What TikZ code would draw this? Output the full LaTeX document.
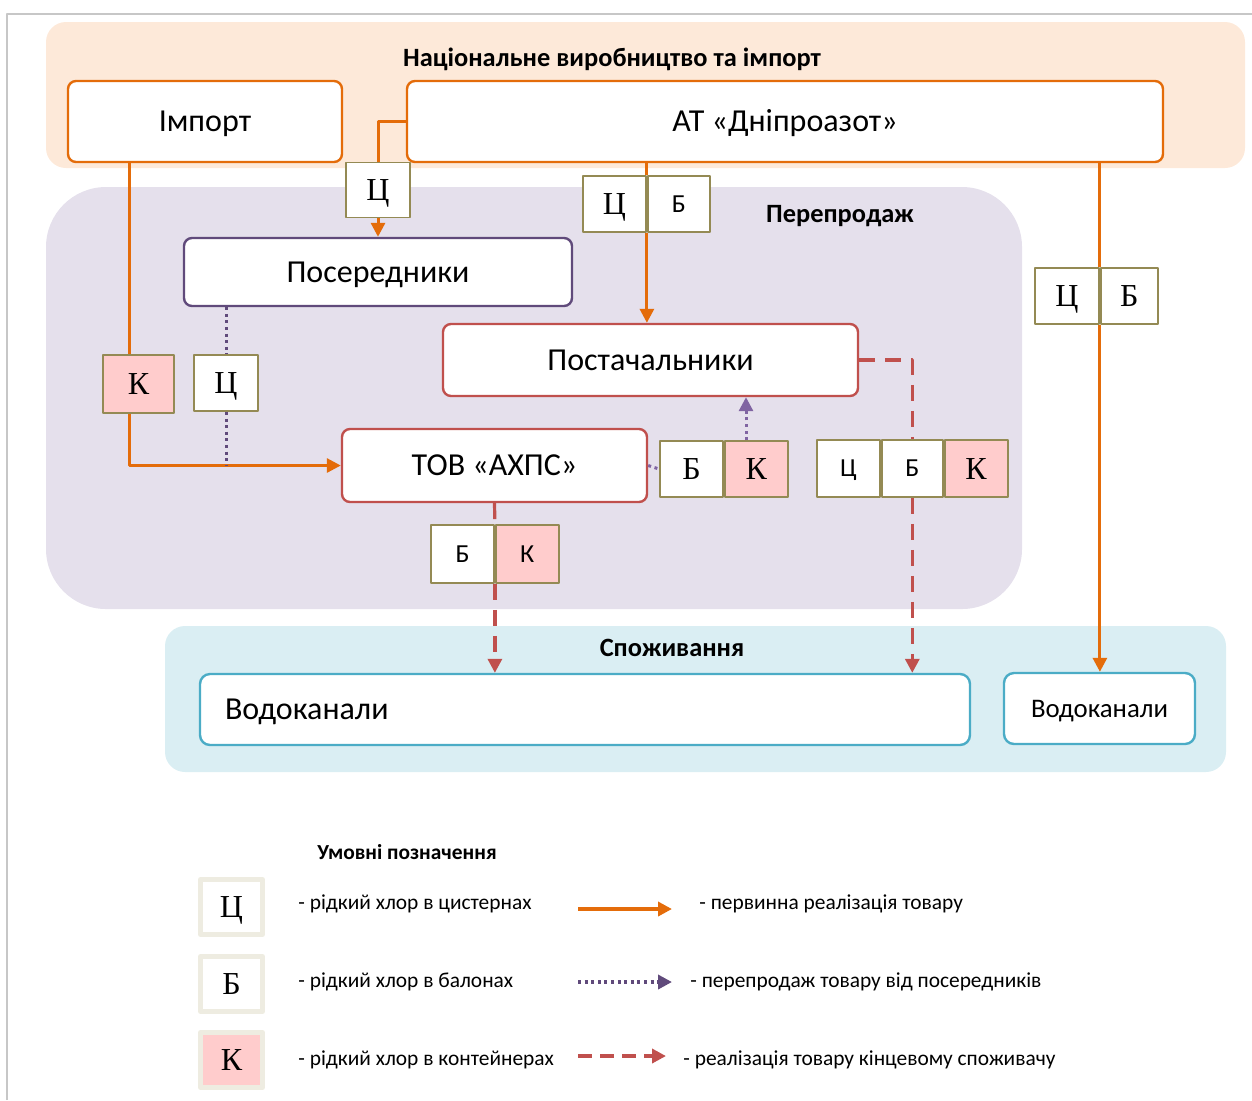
\documentclass[tikz,border=0pt]{standalone}
\usepackage{fontspec}
\setmainfont{Carlito}
\newfontfamily\serifletters{Liberation Serif}
\usetikzlibrary{arrows.meta, calc, positioning}
\usepackage{xcolor}

\definecolor{primorange}{RGB}{228,108,10}
\definecolor{bandorange}{RGB}{253,233,217}
\definecolor{bandlilac}{RGB}{229,224,236}
\definecolor{bandblue}{RGB}{218,238,243}
\definecolor{darkpurple}{RGB}{96,74,123}
\definecolor{lightpurple}{RGB}{128,100,162}
\definecolor{finalred}{RGB}{192,80,77}
\definecolor{waterblue}{RGB}{75,172,198}
\definecolor{tagolive}{RGB}{148,138,84}
\definecolor{tagpink}{RGB}{255,204,204}
\definecolor{legendgrey}{RGB}{238,236,225}

\begin{document}
\begin{tikzpicture}[x=0.5pt, y=-0.5pt, line cap=butt, line join=round,
  box/.style={draw, fill=white, rounded corners=4pt, line width=1.2pt, inner sep=2pt, text height=10.3pt, text depth=0pt, font=\fontsize{16}{19}\selectfont},
  bandtitle/.style={font=\bfseries\fontsize{13.2}{15}\selectfont, inner sep=0pt},
  tag/.style={draw=tagolive, fill=white, line width=0.9pt, inner sep=0pt, text height=10.6pt, text depth=0pt, font=\serifletters\fontsize{16}{18}\selectfont},
  tagsans/.style={tag, text height=8.4pt, font=\fontsize{13}{15}\selectfont},
  pink/.style={fill=tagpink},
  legbox/.style={draw=legendgrey, fill=white, line width=2.5pt, inner sep=0pt, minimum width=31pt, minimum height=27.5pt, text height=10.6pt, text depth=0pt, font=\serifletters\fontsize{16}{18}\selectfont},
  legtext/.style={anchor=west, inner sep=0pt, font=\fontsize{10.7}{12}\selectfont},
  prim/.style={draw=primorange, line width=1.5pt},
  resale/.style={draw=darkpurple, line width=1.5pt, dash pattern=on 1.5pt off 1.8pt},
  final/.style={draw=finalred, line width=1.6pt, dash pattern=on 8pt off 5pt},
  tip/.style={-{Triangle[length=7pt,width=7pt]}}]
\useasboundingbox (0,0) rectangle (1252,1100);

% рамка
\draw [black!22, line width=1pt] (7,1100) -- (7,14) -- (1252,14);

% фонові області
\fill [bandorange, rounded corners=10pt] (46,22) rectangle (1245,168);
\fill [bandlilac, rounded corners=30pt] (46,187) rectangle (1022,609);
\fill [bandblue, rounded corners=10pt] (165,626) rectangle (1226,772);

\node [bandtitle] (natl) at (612,59) {Національне виробництво та імпорт};
\node [bandtitle] (resold) at (840,216) {Перепродаж};
\node [bandtitle] (consum) at (672,648) {Споживання};

% учасники ринку
\node [box, draw=primorange, minimum width=137pt, minimum height=40.5pt] (imp) at (205,121.5) {Імпорт};
\node [box, draw=primorange, minimum width=378pt, minimum height=40.5pt] (dnipro) at (785,121.5) {АТ «Дніпроазот»};
\node [box, draw=darkpurple, minimum width=194pt, minimum height=34pt] (poser) at (378,272) {Посередники};
\node [box, draw=finalred, minimum width=207.5pt, minimum height=36pt] (postach) at (650.5,360) {Постачальники};
\node [box, draw=finalred, minimum width=152.5pt, minimum height=36.5pt] (tov) at (494.5,465.5) {ТОВ «АХПС»};
\node [box, draw=waterblue, rounded corners=5pt, text width=360pt, inner xsep=12.5pt, align=left, minimum height=35.5pt] (vodo1) at (585,709.5) {Водоканали};
\node [box, draw=waterblue, rounded corners=5pt, minimum width=95.5pt, minimum height=35.5pt, text height=8.6pt, font=\fontsize{13.4}{16}\selectfont] (vodo2) at (1099.5,708.5) {Водоканали};

% позначки тари
\node [tag, minimum width=32pt, minimum height=27.5pt] (t1) at (378,190) {Ц};
\node [tag, minimum width=31.5pt, minimum height=28pt] (t2a) at (614.5,204) {Ц};
\node [tagsans, minimum width=31pt, minimum height=28pt, right=0pt of t2a] (t2b) {Б};
\node [tag, minimum width=32pt, minimum height=28pt] (t3a) at (1067,296) {Ц};
\node [tag, minimum width=28.5pt, minimum height=28pt, right=0pt of t3a] (t3b) {Б};
\node [tag, pink, minimum width=35.5pt, minimum height=29pt] (t4) at (138.5,384) {К};
\node [tag, minimum width=32pt, minimum height=28pt] (t5) at (226,383) {Ц};
\node [tag, minimum width=31.5pt, minimum height=28pt] (t6a) at (691.5,469) {Б};
\node [tag, pink, minimum width=31.5pt, minimum height=28pt, right=0pt of t6a] (t6b) {К};
\node [tagsans, minimum width=31.5pt, minimum height=29pt] (t7a) at (462.5,554) {Б};
\node [tagsans, pink, minimum width=31.5pt, minimum height=29pt, right=0pt of t7a] (t7b) {К};
\node [tagsans, minimum width=31.5pt, minimum height=28.5pt] (t8a) at (848.5,468.5) {Ц};
\node [tagsans, minimum width=30.5pt, minimum height=28.5pt, right=0pt of t8a] (t8b) {Б};
\node [tag, pink, minimum width=31.5pt, minimum height=28.5pt, right=0pt of t8b] (t8c) {К};

\coordinate (kx) at (129,384);
\coordinate (ux) at (746,440);

% первинна реалізація
\draw [prim] (dnipro.west) -| (t1.north);
\draw [prim, tip] (t1.south) -- (poser.north);
\draw [prim] (dnipro.south -| t2a.east) -- (t2a.north east);
\draw [prim, tip] (t2a.south east) -- (postach.north -| t2a.east);
\draw [prim] (dnipro.south -| t3a.east) -- (t3a.north east);
\draw [prim, tip] (t3a.south east) -- (vodo2.north -| t3a.east);
\draw [prim] (imp.south -| kx) -- (kx |- t4.north);
\draw [prim, tip] (kx |- t4.south) |- (tov.west);

% перепродаж
\draw [resale] (poser.south -| t5) -- (t5.north);
\draw [resale] (t5.south) -- (t5 |- tov.west);
\draw [resale, draw=lightpurple] (tov.east) -- (t6a.west);
\draw [resale, draw=lightpurple, tip] (t6b.north -| ux) -- (postach.south -| ux);

% кінцевий споживач
\draw [final] (tov.south) -- (t7a.north east);
\draw [final, tip] (t7a.south east) -- (vodo1.north -| t7a.east);
\draw [final] (postach.east) -| (t8b.north);
\draw [final, tip] (t8b.south) -- (vodo1.north -| t8b);

% умовні позначення
\node [font=\bfseries\fontsize{10.7}{12}\selectfont, inner sep=0pt] (legtitle) at (407,852) {Умовні позначення};
\node [legbox] (lg1) at (231.5,907) {Ц};
\node [legbox] (lg2) at (231.5,984) {Б};
\node [legbox, fill=tagpink] (lg3) at (231.5,1060) {К};
\node [legtext] (ld1) at (298,904) {- рідкий хлор в цистернах};
\node [legtext] (ld2) at (298,982) {- рідкий хлор в балонах};
\node [legtext] (ld3) at (298,1060) {- рідкий хлор в контейнерах};
\node [legtext] (lr1) at (699,904) {- первинна реалізація товару};
\node [legtext] (lr2) at (690,982) {- перепродаж товару від посередників};
\node [legtext] (lr3) at (683,1060) {- реалізація товару кінцевому споживачу};

\coordinate (la1) at (578,909);
\coordinate (la2) at (578,982);
\coordinate (la3) at (578,1056);
\draw [prim, line width=2pt, tip] (la1) -- ++(94,0);
\draw [resale, line width=2pt, tip] (la2) -- ++(94,0);
\draw [final, line width=2pt, dash pattern=on 7pt off 4pt, tip] (la3) -- ++(88,0);

\end{tikzpicture}
\end{document}
